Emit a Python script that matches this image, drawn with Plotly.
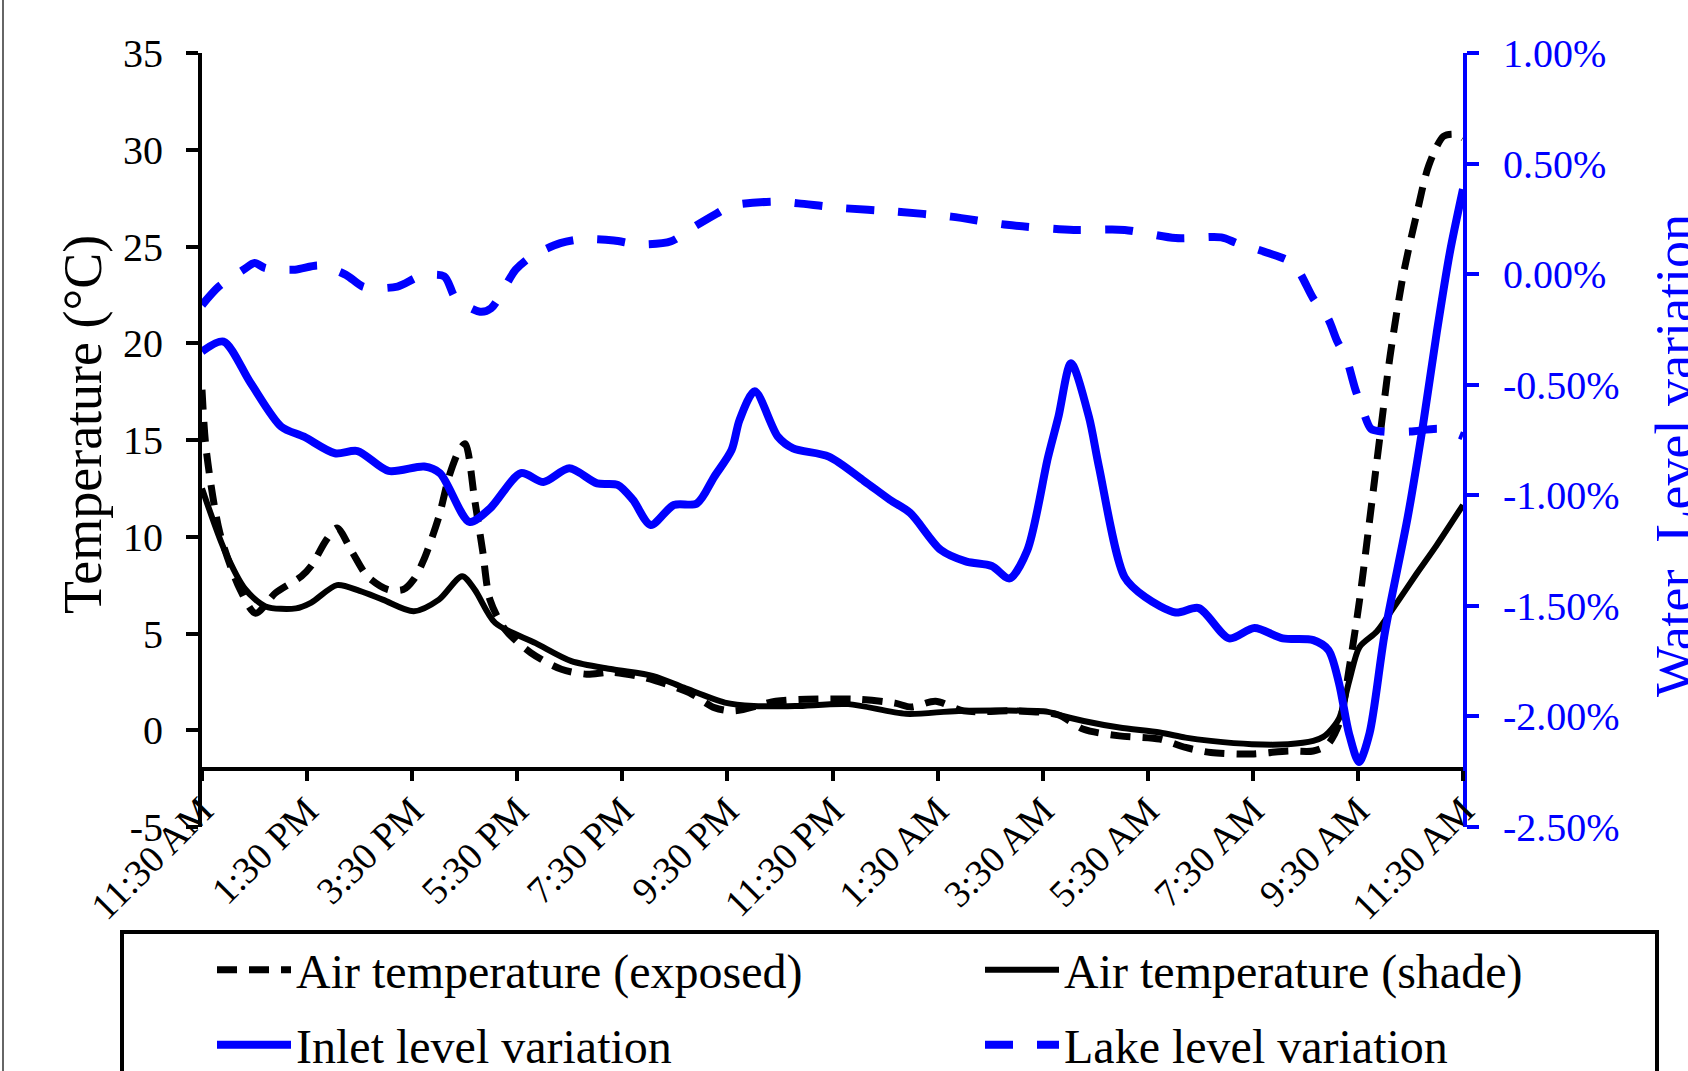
import plotly.graph_objects as go

# ---------------- data (x = hours after 11:30 AM) ----------------
hours_exposed = [0.0, 0.08, 0.34, 0.72, 1.02, 1.4, 1.89, 2.08, 2.37, 2.57, 2.86, 3.15, 3.54, 3.83,
                 4.03, 4.22, 4.51, 4.7, 4.9, 5.01, 5.19, 5.34, 5.48, 5.77, 6.26, 6.84, 7.32, 7.8,
                 8.45, 9.27, 9.75, 10.14, 10.92, 11.5, 12.5, 13.19, 13.5, 13.96, 14.5, 15.5, 16.29,
                 16.78, 17.46, 18.23, 18.72, 19.2, 19.98, 20.67, 21.15, 21.42, 21.65, 21.84, 22.03,
                 22.22, 22.42, 22.61, 22.86, 23.12, 23.35, 23.63, 23.85, 24.0]
temp_exposed = [17.6, 14.5, 10.2, 7.3, 6.05, 7.1, 7.95, 8.5, 9.85, 10.45, 9.2, 7.95, 7.27, 7.27,
                7.8, 8.8, 11.05, 13.1, 14.5, 14.8, 11.9, 9.3, 6.75, 5.2, 4.0, 3.15, 2.9, 3.0,
                2.7, 1.95, 1.17, 1.0, 1.5, 1.6, 1.6, 1.4, 1.2, 1.5, 1.0, 1.0, 0.8,
                0.05, -0.29, -0.46, -0.89, -1.15, -1.23, -1.07, -1.07, -0.75, 0.4, 3.3, 6.7,
                10.8, 15.2, 19.3, 23.5, 26.7, 29.2, 30.7, 30.8, 30.6]

hours_shade = [0.0, 0.43, 0.82, 1.21, 1.79, 2.08, 2.57, 3.0, 3.44, 4.03, 4.51, 4.95, 5.19, 5.58,
               6.35, 7.03, 7.81, 8.59, 9.17, 9.95, 10.5, 11.3, 12.3, 13.4, 14.4, 16.1, 16.29, 16.78,
               17.46, 18.23, 18.72, 19.2, 19.98, 20.67, 21.15, 21.34, 21.44, 21.64, 21.84, 22.03,
               22.36, 22.67, 23.12, 23.5, 24.0]
temp_shade = [12.5, 9.3, 7.3, 6.4, 6.3, 6.6, 7.5, 7.2, 6.75, 6.15, 6.75, 7.96, 7.27, 5.55,
              4.5, 3.57, 3.15, 2.8, 2.2, 1.43, 1.25, 1.25, 1.35, 0.85, 1.0, 0.95, 0.8, 0.48,
              0.14, -0.12, -0.38, -0.55, -0.72, -0.72, -0.55, -0.34, -0.12, 0.6, 2.6, 4.3,
              5.1, 6.3, 8.1, 9.57, 11.64]

hours_inlet = [0.0, 0.41, 0.92, 1.51, 1.94, 2.53, 2.96, 3.55, 4.23, 4.53, 5.09, 5.48, 6.07, 6.5,
               6.99, 7.52, 7.91, 8.2, 8.54, 8.98, 9.42, 9.75, 10.08, 10.23, 10.52, 10.96, 11.25,
               11.93, 12.6, 13.09, 13.48, 14.06, 14.55, 15.03, 15.37, 15.71, 16.1, 16.3, 16.54,
               16.88, 17.07, 17.56, 17.95, 18.53, 18.97, 19.55, 20.03, 20.57, 21.15, 21.44, 21.64,
               21.83, 22.02, 22.22, 22.51, 22.95, 23.24, 23.5, 23.75, 24.0]
level_inlet = [-0.35, -0.305, -0.49, -0.69, -0.735, -0.81, -0.80, -0.89, -0.87, -0.90, -1.12, -1.06,
               -0.90, -0.94, -0.878, -0.946, -0.953, -1.02, -1.134, -1.044, -1.037, -0.916, -0.795,
               -0.66, -0.53, -0.735, -0.788, -0.825, -0.935, -1.02, -1.08, -1.247, -1.30, -1.32,
               -1.376, -1.247, -0.83, -0.645, -0.403, -0.645, -0.87, -1.37, -1.46, -1.53, -1.51,
               -1.647, -1.60, -1.647, -1.655, -1.70, -1.85, -2.077, -2.206, -2.077, -1.625, -1.096,
               -0.68, -0.265, 0.098, 0.384]

hours_lake = [0.0, 0.32, 0.79, 1.0, 1.21, 1.77, 2.23, 2.74, 3.08, 3.72, 4.15, 4.61, 4.83, 5.29, 5.5,
              5.97, 6.27, 6.82, 7.25, 7.84, 8.31, 8.93, 9.31, 9.79, 10.08, 10.96, 11.35, 12.12,
              13.19, 14.26, 15.32, 16.59, 17.56, 18.53, 19.4, 19.7, 20.26, 20.77, 21.15, 21.43,
              21.6, 21.78, 21.95, 22.1, 22.25, 22.48, 22.99, 23.56, 24.0]
level_lake = [-0.14, -0.056, 0.02, 0.05, 0.027, 0.02, 0.039, -0.003, -0.058, -0.056, -0.01, -0.01,
              -0.11, -0.17, -0.155, 0.02, 0.08, 0.14, 0.158, 0.152, 0.135, 0.149, 0.206, 0.273,
              0.31, 0.328, 0.32, 0.30, 0.283, 0.26, 0.223, 0.2, 0.2, 0.163, 0.166, 0.14, 0.098,
              0.047, -0.11, -0.2, -0.3, -0.382, -0.52, -0.62, -0.70, -0.712, -0.712, -0.70, -0.733]

x_tick_hours = [0, 2, 4, 6, 8, 10, 12, 14, 16, 18, 20, 22, 24]
x_tick_labels = ["11:30 AM", "1:30 PM", "3:30 PM", "5:30 PM", "7:30 PM", "9:30 PM", "11:30 PM",
                 "1:30 AM", "3:30 AM", "5:30 AM", "7:30 AM", "9:30 AM", "11:30 AM"]
y_tick_vals = [-5, 0, 5, 10, 15, 20, 25, 30, 35]
y_tick_labels = ["-5", "0", "5", "10", "15", "20", "25", "30", "35"]
y2_tick_vals = [-2.5, -2.0, -1.5, -1.0, -0.5, 0.0, 0.5, 1.0]
y2_tick_labels = ["-2.50%", "-2.00%", "-1.50%", "-1.00%", "-0.50%", "0.00%", "0.50%", "1.00%"]

# ---------------- layout geometry ----------------
W, H = 1688, 1071
L, R, T, B = 202, 225, 53, 244
PW, PH = W - L - R, H - T - B


def px(x):
    return (x - L) / PW


def py(y):
    return (H - B - y) / PH


FONT = "Liberation Serif, Times New Roman, serif"
BLUE = "#0000FF"

fig = go.Figure()
fig.add_trace(go.Scatter(x=hours_exposed, y=temp_exposed, mode="lines",
                         name="Air temperature (exposed)", legend="legend",
                         line=dict(color="black", width=7, dash="20px,12px", shape="spline", smoothing=0.8)))
fig.add_trace(go.Scatter(x=hours_shade, y=temp_shade, mode="lines",
                         name="Air temperature (shade)", legend="legend2",
                         line=dict(color="black", width=6, shape="spline", smoothing=0.8)))
fig.add_trace(go.Scatter(x=hours_inlet, y=level_inlet, mode="lines", yaxis="y2",
                         name="Inlet level variation", legend="legend3",
                         line=dict(color=BLUE, width=8, shape="spline", smoothing=0.8)))
fig.add_trace(go.Scatter(x=hours_lake, y=level_lake, mode="lines", yaxis="y2",
                         name="Lake level variation", legend="legend4",
                         line=dict(color=BLUE, width=8, dash="28px,24px", shape="spline", smoothing=0.8)))

legend_common = dict(orientation="h", xanchor="left", yanchor="middle", xref="paper", yref="paper",
                     itemwidth=74,
                     font=dict(family=FONT, size=48, color="black"),
                     bgcolor="rgba(0,0,0,0)", borderwidth=0)

fig.update_layout(
    width=W, height=H,
    margin=dict(l=L, r=R, t=T, b=B, autoexpand=False),
    paper_bgcolor="white", plot_bgcolor="white",
    font=dict(family=FONT, color="black"),
    showlegend=True,
    legend=dict(x=px(212), y=py(970), **legend_common),
    legend2=dict(x=px(980), y=py(970), **legend_common),
    legend3=dict(x=px(212), y=py(1045), **legend_common),
    legend4=dict(x=px(980), y=py(1045), **legend_common),
    xaxis=dict(range=[0, 24], anchor="free", position=3 / 40, showgrid=False, zeroline=False,
               showline=True, linecolor="black", linewidth=4,
               ticks="outside", ticklen=10, tickwidth=3.5, tickcolor="black",
               tickvals=x_tick_hours, ticktext=x_tick_labels, tickangle=-45,
               ticklabelstandoff=-8,
               tickfont=dict(family=FONT, size=38, color="black")),
    yaxis=dict(range=[-5, 35], showgrid=False, zeroline=False,
               showline=True, linecolor="black", linewidth=4,
               ticks="outside", ticklen=12, tickwidth=3.5, tickcolor="black",
               tickvals=y_tick_vals, ticktext=y_tick_labels, ticklabelstandoff=15,
               tickfont=dict(family=FONT, size=40, color="black")),
    yaxis2=dict(range=[-2.5, 1.0], overlaying="y", side="right", anchor="x",
                showgrid=False, zeroline=False,
                showline=True, linecolor=BLUE, linewidth=4,
                ticks="outside", ticklen=12, tickwidth=3.5, tickcolor=BLUE,
                tickvals=y2_tick_vals, ticktext=y2_tick_labels, ticklabelstandoff=16,
                tickfont=dict(family=FONT, size=40, color=BLUE)),
)

fig.add_annotation(text="Temperature (°C)", xref="paper", yref="paper", x=px(83), y=py(425),
                   xanchor="center", yanchor="middle", textangle=-90, showarrow=False,
                   font=dict(family=FONT, size=54, color="black"))
fig.add_annotation(text="Water\u00a0 Level variation", xref="paper", yref="paper", x=px(1675), y=py(456),
                   xanchor="center", yanchor="middle", textangle=-90, showarrow=False,
                   font=dict(family=FONT, size=54, color=BLUE))

# legend frame and outer chart border
fig.add_shape(type="rect", xref="paper", yref="paper", x0=px(122), x1=px(1657), y0=py(932), y1=py(1110),
              line=dict(color="black", width=4), fillcolor="rgba(0,0,0,0)")
fig.add_shape(type="line", xref="paper", yref="paper", x0=px(3), x1=px(3), y0=py(-10), y1=py(1110),
              line=dict(color="#333333", width=1.5))

fig.write_html("out.html", config={"displayModeBar": False},
               post_script="document.body.style.margin='0px';")
